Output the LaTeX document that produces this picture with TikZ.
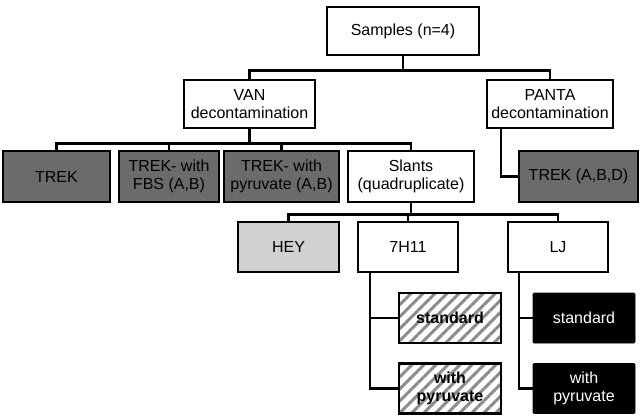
\documentclass[tikz,border=0pt]{standalone}
\usepackage{fontspec}
\setmainfont{Liberation Sans}
\usepackage{xcolor}
\usetikzlibrary{positioning, calc, patterns.meta}

\definecolor{trekgray}{gray}{0.42}
\definecolor{heygray}{gray}{0.82}
\definecolor{hatchgray}{gray}{0.55}

\tikzset{
    box/.style={draw, line width=2.6pt, inner sep=0pt, align=center,
        minimum height=48pt, font=\fontsize{16}{18}\selectfont},
    trekbox/.style={box, fill=trekgray, minimum height=51pt},
    heybox/.style={box, fill=heygray, minimum height=50pt},
    slantbox/.style={box, minimum height=50pt},
    hatchbox/.style={box, minimum height=50pt,
        pattern={Lines[angle=45, distance=8.5pt, line width=3pt]},
        pattern color=hatchgray, font=\fontsize{16}{18}\selectfont\bfseries},
    ljbox/.style={box, fill=black, line width=0.6pt, rounded corners=1pt,
        minimum height=50pt, text=white},
    link/.style={line width=2.4pt}
}

\begin{document}
\begin{tikzpicture}[x=1pt, y=-1pt]

    \useasboundingbox (0,0) rectangle (642,416);

    % --- Top level ---
    \node[box, minimum width=152pt] (samples) at (403, 31) {Samples (n=4)};

    % --- Decontamination ---
    \node[box, minimum width=131pt] (van) at (249.5, 104) {VAN\\decontamination};
    \node[box, minimum width=126pt] (panta) at (550, 104) {PANTA\\decontamination};

    % --- Media after VAN ---
    \node[trekbox, minimum width=107pt] (trek) at (56.5, 176.5) {TREK};
    \node[trekbox, minimum width=100pt] (fbs) at (169, 176.5) {TREK- with\\FBS (A,B)};
    \node[trekbox, minimum width=115pt] (pyr) at (281.5, 176.5) {TREK- with\\pyruvate (A,B)};
    \node[box, minimum width=126pt, minimum height=51pt] (slants) at (411, 176.5) {Slants\\(quadruplicate)};

    % --- Media after PANTA ---
    \node[trekbox, minimum width=119pt] (trekabd) at (578.5, 176.5) {TREK (A,B,D)};

    % --- Slants ---
    \node[heybox, minimum width=101pt] (hey) at (288.5, 247) {HEY};
    \node[slantbox, minimum width=100pt] (hxi) at (408, 247) {7H11};
    \node[slantbox, minimum width=100pt] (lj) at (558, 247) {LJ};

    % --- 7H11 variants ---
    \node[hatchbox, minimum width=102pt] (hxistd) at (450, 318) {standard};
    \node[hatchbox, minimum width=102pt] (hxipyr) at (450, 388.5) {with\\pyruvate};

    % --- LJ variants ---
    \node[ljbox, minimum width=102pt] (ljstd) at (584, 318) {standard};
    \node[ljbox, minimum width=102pt] (ljpyr) at (584, 388.5) {with\\pyruvate};

    % --- Connectors ---
    \draw[link] (samples.south) -- ++(0,14) coordinate (top);
    \draw[link] (van.north) |- (top) -| (panta.north);

    \draw[link] (van.south) -- ++(0,14) coordinate (mid);
    \draw[link] (trek.north) |- (mid) -| (slants.north);
    \draw[link] (fbs.north) -- (fbs.north |- mid);
    \draw[link] (pyr.north) -- (pyr.north |- mid);

    \draw[link] ([xshift=-49pt]panta.south) |- (trekabd.west);

    \draw[link] (slants.south) -- ++(0,11) coordinate (low);
    \draw[link] (hey.north) |- (low) -| (lj.north);
    \draw[link] (hxi.north) -- (hxi.north |- low);

    \draw[link] ([xshift=-38pt]hxi.south) |- (hxistd.west);
    \draw[link] ([xshift=-38pt]hxi.south) |- (hxipyr.west);

    \draw[link] ([xshift=-39pt]lj.south) |- (ljstd.west);
    \draw[link] ([xshift=-39pt]lj.south) |- (ljpyr.west);

\end{tikzpicture}
\end{document}
